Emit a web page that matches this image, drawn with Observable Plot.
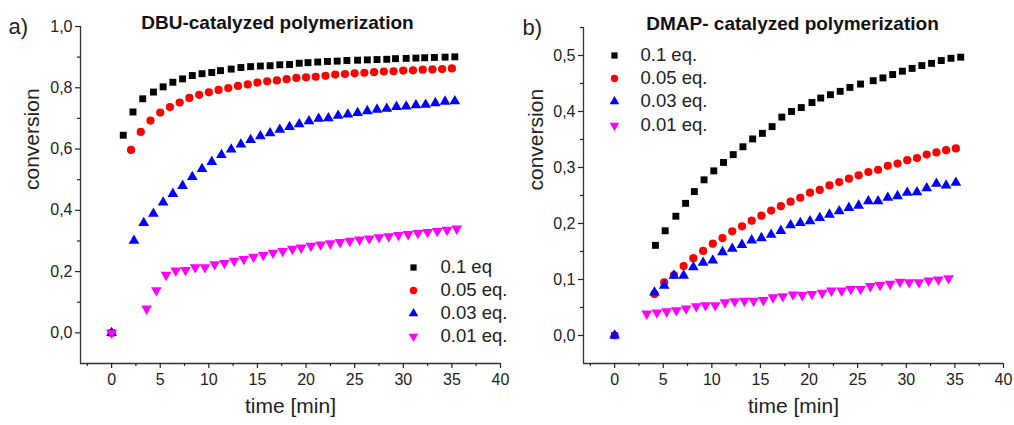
<!DOCTYPE html>
<html><head><meta charset="utf-8">
<script src="https://cdn.jsdelivr.net/npm/d3@7"></script>
<script src="https://cdn.jsdelivr.net/npm/@observablehq/plot@0.6"></script>
<style>
body{margin:0;background:#fff;}
#wrap{position:relative;width:1014px;height:425px;overflow:hidden;}
#wrap > svg{position:absolute;top:0;}
</style></head><body><div id="wrap"></div>
<script>
// ---- Panel a) DBU-catalyzed polymerization ----
const dbuT1 = [0,1.2,2.2,3.2,4.3,5.3,6.3,7.3,8.3,9.3,10.3,11.2,12.3,13.3,14.3,15.3,16.3,17.3,18.3,19.3,20.2,21.2,22.2,23.2,24.2,25.3,26.3,27.3,28.3,29.2,30.3,31.3,32.2,33.2,34.3,35.3];
const dbuC1 = [0,0.645,0.721,0.764,0.786,0.803,0.818,0.829,0.840,0.846,0.850,0.856,0.861,0.866,0.869,0.871,0.872,0.875,0.876,0.880,0.882,0.884,0.886,0.887,0.889,0.890,0.891,0.892,0.893,0.895,0.896,0.897,0.898,0.899,0.900,0.901];
const dbuT2 = [0,2,3,4,5,6,7,8,9,10,11,12,13,14,15,16,17,18,19,20,21,22,23,24,25,26,27,28,29,30,31,32,33,34,35];
const dbuC2 = [0,0.597,0.656,0.693,0.719,0.737,0.752,0.767,0.777,0.785,0.793,0.799,0.806,0.811,0.817,0.821,0.824,0.828,0.832,0.834,0.836,0.839,0.843,0.845,0.847,0.849,0.851,0.853,0.854,0.856,0.857,0.859,0.860,0.861,0.863];
const dbuT3 = [0,2.3,3.3,4.3,5.3,6.3,7.3,8.3,9.3,10.3,11.3,12.3,13.3,14.3,15.3,16.3,17.3,18.3,19.3,20.3,21.3,22.3,23.3,24.3,25.3,26.3,27.3,28.3,29.3,30.3,31.3,32.3,33.3,34.3,35.3];
const dbuC3 = [0,0.301,0.359,0.389,0.426,0.454,0.480,0.509,0.535,0.558,0.581,0.599,0.615,0.630,0.642,0.652,0.663,0.672,0.681,0.691,0.699,0.701,0.709,0.713,0.718,0.724,0.729,0.732,0.738,0.739,0.743,0.745,0.750,0.755,0.756];
const dbuT4 = [0,3.6,4.6,5.6,6.6,7.6,8.6,9.6,10.6,11.6,12.6,13.6,14.6,15.6,16.6,17.6,18.6,19.5,20.5,21.5,22.5,23.5,24.5,25.5,26.5,27.5,28.5,29.5,30.5,31.5,32.5,33.5,34.5,35.5];
const dbuC4 = [0,0.079,0.139,0.189,0.203,0.205,0.214,0.214,0.224,0.228,0.235,0.241,0.248,0.254,0.261,0.267,0.274,0.278,0.284,0.288,0.292,0.296,0.300,0.304,0.308,0.312,0.315,0.319,0.322,0.326,0.329,0.332,0.336,0.340];

// ---- Panel b) DMAP-catalyzed polymerization ----
const dmapT1 = [0,4.2,5.2,6.3,7.3,8.2,9.2,10.2,11.2,12.2,13.2,14.2,15.2,16.2,17.2,18.2,19.2,20.3,21.2,22.2,23.2,24.2,25.3,26.6,27.6,28.6,29.6,30.6,31.6,32.6,33.6,34.6,35.6];
const dmapC1 = [0,0.161,0.187,0.213,0.236,0.257,0.278,0.294,0.309,0.323,0.337,0.351,0.361,0.373,0.390,0.400,0.407,0.416,0.424,0.430,0.436,0.443,0.449,0.455,0.460,0.466,0.472,0.477,0.482,0.486,0.491,0.495,0.497];
const dmapT2 = [0,4.1,5.1,6.1,7.1,8.1,9.1,10.1,11.1,12.1,13.1,14.1,15.1,16.1,17.1,18.1,19.1,20.1,21.1,22.1,23.1,24.1,25.1,26.1,27.1,28.1,29.1,30.1,31.1,32.1,33.1,34.1,35.1];
const dmapC2 = [0,0.074,0.095,0.108,0.124,0.138,0.151,0.164,0.174,0.186,0.195,0.205,0.214,0.223,0.231,0.239,0.246,0.255,0.260,0.268,0.274,0.280,0.286,0.292,0.296,0.303,0.307,0.313,0.317,0.323,0.327,0.331,0.334];
const dmapT3 = [0,4.1,5.1,6.1,7.1,8.1,9.1,10.1,11.1,12.1,13.1,14.1,15.1,16.1,17.1,18.1,19.1,20.1,21.1,22.1,23.1,24.1,25.1,26.1,27.1,28.1,29.1,30.1,31.1,32.1,33.1,34.1,35.1];
const dmapC3 = [0,0.077,0.089,0.107,0.107,0.122,0.130,0.134,0.149,0.155,0.162,0.170,0.174,0.180,0.187,0.197,0.201,0.204,0.210,0.216,0.222,0.228,0.232,0.240,0.240,0.246,0.249,0.255,0.256,0.263,0.271,0.268,0.273];
const dmapT4 = [3.3,4.35,5.35,6.35,7.35,8.4,9.35,10.35,11.35,12.35,13.35,14.3,15.3,16.3,17.3,18.35,19.3,20.3,21.35,22.3,23.35,24.3,25.3,26.3,27.3,28.35,29.35,30.3,31.3,32.3,33.3,34.35];
const dmapC4 = [0.039,0.041,0.043,0.045,0.048,0.052,0.054,0.054,0.059,0.061,0.062,0.062,0.063,0.068,0.070,0.073,0.072,0.074,0.076,0.080,0.080,0.083,0.083,0.088,0.090,0.092,0.096,0.095,0.095,0.098,0.100,0.102];

// ---- labels, ticks ----
const labelsA = ["0.1 eq", "0.05 eq.", "0.03 eq.", "0.01 eq."];
const labelsB = ["0.1 eq.", "0.05 eq.", "0.03 eq.", "0.01 eq."];
const seriesColors = ["#000000", "#ff0000", "#0000ff", "#ff00ff"];
const xMajor = [0,5,10,15,20,25,30,35,40];
const xMinor = [-2.5,2.5,7.5,12.5,17.5,22.5,27.5,32.5,37.5];
const yMajorA = [0,0.2,0.4,0.6,0.8,1.0];
const yMinorA = [0.1,0.3,0.5,0.7,0.9];
const yMajorB = [0,0.1,0.2,0.3,0.4,0.5];
const yMinorB = [0.05,0.15,0.25,0.35,0.45,0.55];

const triangleDown = {draw(ctx, size) {
  const c = {moveTo:(x,y)=>ctx.moveTo(x,-y), lineTo:(x,y)=>ctx.lineTo(x,-y), closePath:()=>ctx.closePath()};
  d3.symbolTriangle.draw(c, size);
}};
const symbols = ["square", "circle", "triangle", triangleDown];
const radii = [3.9, 4.1, 4.0, 4.0];

const commaFmt = d3.formatLocale({decimal: ",", thousands: ".", grouping: [3], currency: ["", ""]}).format(".1f");
const font = "'Liberation Sans', Arial, sans-serif";

function rows(T, C) { return T.map((t, i) => ({t, c: C[i]})); }

function panel(cfg) {
  const marks = [
    Plot.ruleX([cfg.xDomain[0]], {stroke: "#333", strokeWidth: 1.3}),
    Plot.ruleY([cfg.yDomain[0]], {stroke: "#333", strokeWidth: 1.3}),
    Plot.axisX({ticks: xMajor, tickSize: 5, tickPadding: 5, tickFormat: d => String(d), label: null, strokeWidth: 1.2}),
    Plot.axisX({ticks: xMinor, tickSize: 3, tickFormat: () => "", label: null, strokeWidth: 1.2}),
    Plot.axisY({ticks: cfg.yMajor, tickSize: 5, tickPadding: 3, tickFormat: commaFmt, label: null, strokeWidth: 1.2}),
    Plot.axisY({ticks: cfg.yMinor, tickSize: 3, tickFormat: () => "", label: null, strokeWidth: 1.2}),
    ...cfg.series.map((s, i) => Plot.dot(rows(s[0], s[1]), {x: "t", y: "c", symbol: symbols[i], fill: seriesColors[i], r: radii[i], stroke: "none"})),
    Plot.text([cfg.title], {frameAnchor: "top", dx: cfg.titleDx, dy: -4, fontWeight: "bold", fontSize: 19, lineAnchor: "middle", fill: "#111"}),
    Plot.text([cfg.tag], {frameAnchor: "top-left", dx: cfg.tagDx, dy: 0, textAnchor: "start", fontSize: 22, lineAnchor: "middle", fill: "#222"}),
    Plot.text(["conversion"], {frameAnchor: "left", rotate: -90, dx: cfg.yTitleDx, dy: -5, fontSize: 21, lineAnchor: "middle", fill: "#222"}),
    Plot.text(["time [min]"], {frameAnchor: "bottom", dy: 43, fontSize: 21, lineAnchor: "middle", fill: "#222"}),
    ...cfg.labels.map((lab, i) => Plot.dot([lab], {frameAnchor: cfg.legAnchor, dx: cfg.legSymDx, dy: cfg.legDy[i], symbol: symbols[i], fill: seriesColors[i], r: radii[i] * 0.9, stroke: "none"})),
    ...cfg.labels.map((lab, i) => Plot.text([lab], {frameAnchor: cfg.legAnchor, dx: cfg.legTextDx, dy: cfg.legDy[i], textAnchor: "start", lineAnchor: "middle", fontSize: 18.5, fill: "#222"}))
  ];
  const svg = Plot.plot({
    width: cfg.width, height: 425,
    marginLeft: cfg.marginLeft, marginRight: cfg.marginRight, marginTop: cfg.marginTop, marginBottom: 62,
    x: {domain: cfg.xDomain},
    y: {domain: cfg.yDomain},
    style: {fontFamily: font, fontSize: "16px", color: "#222", background: "transparent", overflow: "visible"},
    marks
  });
  svg.style.left = cfg.left + "px";
  return svg;
}

const wrap = document.getElementById("wrap");
wrap.append(panel({
  left: 0, width: 512, marginLeft: 80, marginRight: 12, marginTop: 26,
  xDomain: [-3.2, 40], yDomain: [-0.1, 1.0], yMajor: yMajorA, yMinor: yMinorA,
  series: [[dbuT1, dbuC1], [dbuT2, dbuC2], [dbuT3, dbuC3], [dbuT4, dbuC4]],
  title: "DBU-catalyzed polymerization", titleDx: -13, tag: "a)", tagDx: -72, yTitleDx: -48,
  labels: labelsA, legAnchor: "bottom-right", legSymDx: -87, legTextDx: -60, legDy: [-96, -73, -50, -27]
}));
wrap.append(panel({
  left: 507, width: 507, marginLeft: 76, marginRight: 11, marginTop: 27,
  xDomain: [-3.2, 40], yDomain: [-0.05, 0.55], yMajor: yMajorB, yMinor: yMinorB,
  series: [[dmapT1, dmapC1], [dmapT2, dmapC2], [dmapT3, dmapC3], [dmapT4, dmapC4]],
  title: "DMAP- catalyzed polymerization", titleDx: -1, tag: "b)", tagDx: -61, yTitleDx: -47,
  labels: labelsB, legAnchor: "top-left", legSymDx: 31, legTextDx: 57, legDy: [28, 51, 74, 98]
}));
</script></body></html>
